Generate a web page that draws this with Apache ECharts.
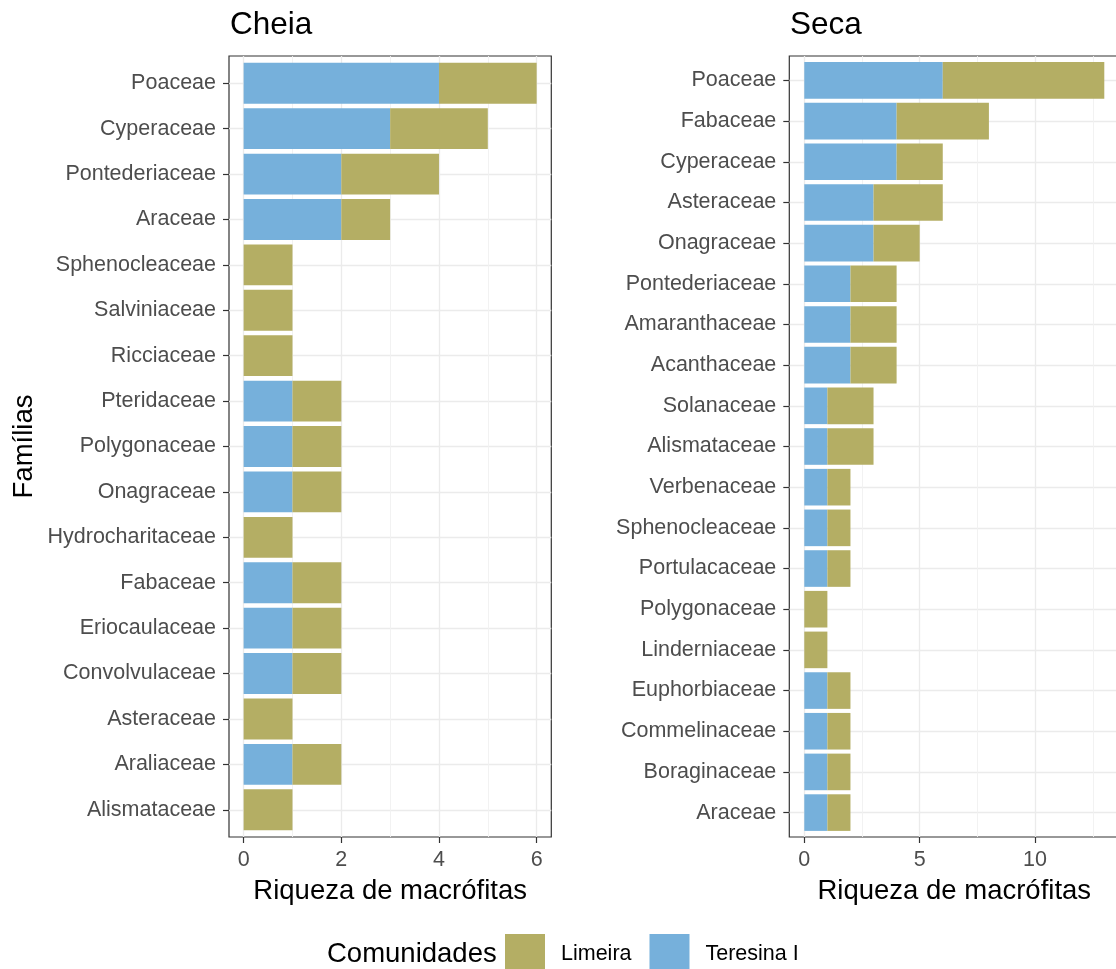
<!DOCTYPE html>
<html>
<head>
<meta charset="utf-8">
<script src="https://cdn.jsdelivr.net/npm/echarts@6/dist/echarts.min.js"></script>
<style>
  html, body { margin: 0; padding: 0; background: #fff; }
  #chart { width: 1116px; height: 969px; }
</style>
</head>
<body>
<div id="chart"></div>
<script>
// Richness of macrophyte species per family, by community and season
const cheiaFamilies = ['Poaceae', 'Cyperaceae', 'Pontederiaceae', 'Araceae', 'Sphenocleaceae',
  'Salviniaceae', 'Ricciaceae', 'Pteridaceae', 'Polygonaceae', 'Onagraceae', 'Hydrocharitaceae',
  'Fabaceae', 'Eriocaulaceae', 'Convolvulaceae', 'Asteraceae', 'Araliaceae', 'Alismataceae'];
const cheiaTeresina = [4, 3, 2, 2, 0, 0, 0, 1, 1, 1, 0, 1, 1, 1, 0, 1, 0];
const cheiaLimeira  = [2, 2, 2, 1, 1, 1, 1, 1, 1, 1, 1, 1, 1, 1, 1, 1, 1];

const secaFamilies = ['Poaceae', 'Fabaceae', 'Cyperaceae', 'Asteraceae', 'Onagraceae',
  'Pontederiaceae', 'Amaranthaceae', 'Acanthaceae', 'Solanaceae', 'Alismataceae', 'Verbenaceae',
  'Sphenocleaceae', 'Portulacaceae', 'Polygonaceae', 'Linderniaceae', 'Euphorbiaceae',
  'Commelinaceae', 'Boraginaceae', 'Araceae'];
const secaTeresina = [6, 4, 4, 3, 3, 2, 2, 2, 1, 1, 1, 1, 1, 0, 0, 1, 1, 1, 1];
const secaLimeira  = [7, 4, 2, 3, 2, 2, 2, 2, 2, 2, 1, 1, 1, 1, 1, 1, 1, 1, 1];

const cheiaTicks = [0, 2, 4, 6];
const cheiaMinor = [1, 3, 5];
const secaTicks = [0, 5, 10];
const secaMinor = [2.5, 7.5, 12.5];

const colTeresina = '#76B0DB';
const colLimeira = '#B4AE64';
const FONT = '"Liberation Sans", Arial, sans-serif';

// stacked segments: [row index, start, end]
function segments(base, top, stackOnBase) {
  return base.map((b, i) => stackOnBase ? [i, b, b + top[i]] : [i, 0, b]);
}

function renderBar(params, api) {
  const idx = api.value(0);
  const a = api.coord([api.value(1), idx]);
  const b = api.coord([api.value(2), idx]);
  const h = Math.abs(api.size([0, 0.9])[1]);
  if (b[0] - a[0] <= 0) return null;
  return {
    type: 'rect',
    shape: { x: a[0], y: a[1] - h / 2, width: b[0] - a[0], height: h },
    style: api.style()
  };
}

function rangeIdx(n) { return Array.from({ length: n }, (_, i) => i); }

function xAxes(gridIndex, min, max, ticks, minor) {
  const labelStyle = { color: '#4D4D4D', fontSize: 21.5, fontFamily: FONT, margin: 12 };
  return [
    {
      gridIndex, type: 'value', min, max, position: 'bottom',
      name: 'Riqueza de macrófitas', nameLocation: 'middle', nameGap: 40,
      nameTextStyle: { color: '#000', fontSize: 27.5, fontFamily: FONT },
      axisLine: { show: false, onZero: false },
      axisTick: { show: true, length: 6, customValues: ticks, lineStyle: { color: '#333', width: 1.2 } },
      axisLabel: Object.assign({ customValues: ticks }, labelStyle),
      splitLine: { show: true, lineStyle: { color: '#EBEBEB', width: 1.3 } }
    },
    {
      gridIndex, type: 'value', min, max, position: 'top',
      axisLine: { show: false, onZero: false },
      axisTick: { show: false, customValues: minor },
      axisLabel: { show: false },
      splitLine: { show: true, lineStyle: { color: '#F0F0F0', width: 0.9 } }
    }
  ];
}

function yAxis(gridIndex, cats, withName) {
  const ax = {
    gridIndex, type: 'value', inverse: true, position: 'left',
    min: -0.6, max: cats.length - 1 + 0.6,
    axisLine: { show: false, onZero: false },
    axisTick: { show: true, length: 6, customValues: rangeIdx(cats.length), lineStyle: { color: '#333', width: 1.2 } },
    axisLabel: {
      customValues: rangeIdx(cats.length),
      formatter: v => cats[Math.round(v)],
      color: '#4D4D4D', fontSize: 21.5, fontFamily: FONT, margin: 13
    },
    splitLine: { show: true, lineStyle: { color: '#EBEBEB', width: 1.3 } }
  };
  if (withName) {
    Object.assign(ax, {
      name: 'Famílias', nameLocation: 'middle', nameGap: 191, nameRotate: 90,
      nameTextStyle: { color: '#000', fontSize: 27.5, fontFamily: FONT }
    });
  }
  return ax;
}

const chart = echarts.init(document.getElementById('chart'), null, { renderer: 'canvas' });

chart.setOption({
  animation: false,
  backgroundColor: '#fff',
  title: [
    { text: 'Cheia', left: 230, top: 9, padding: 0,
      textStyle: { fontSize: 31.5, fontWeight: 'normal', color: '#000', fontFamily: FONT } },
    { text: 'Seca', left: 790, top: 9, padding: 0,
      textStyle: { fontSize: 31.5, fontWeight: 'normal', color: '#000', fontFamily: FONT } }
  ],
  grid: [
    { left: 229, top: 56, width: 322.3, height: 781, show: true, borderColor: '#333', borderWidth: 1.2,
      backgroundColor: 'transparent', outerBoundsMode: 'none' },
    { left: 789.3, top: 56, width: 330, height: 781, show: true, borderColor: '#333', borderWidth: 1.2,
      backgroundColor: 'transparent', outerBoundsMode: 'none' }
  ],
  xAxis: [].concat(
    xAxes(0, -0.3, 6.3, cheiaTicks, cheiaMinor),
    xAxes(1, -0.65, 13.65, secaTicks, secaMinor)
  ),
  yAxis: [yAxis(0, cheiaFamilies, true), yAxis(1, secaFamilies, false)],
  legend: {
    data: ['Limeira', 'Teresina I'],
    left: 505, top: 934, padding: 0,
    itemWidth: 40, itemHeight: 40, itemGap: 18,
    icon: 'rect',
    textStyle: { color: '#000', fontSize: 21.5, fontFamily: FONT, padding: [0, 0, 0, 11] }
  },
  graphic: [
    { type: 'text', left: 327, top: 940,
      style: { text: 'Comunidades', fontSize: 27.5, fill: '#000', fontFamily: FONT } }
  ],
  series: [
    { type: 'custom', name: 'Teresina I', xAxisIndex: 0, yAxisIndex: 0,
      itemStyle: { color: colTeresina }, renderItem: renderBar,
      encode: { x: [1, 2], y: 0 }, data: segments(cheiaTeresina, cheiaLimeira, false) },
    { type: 'custom', name: 'Limeira', xAxisIndex: 0, yAxisIndex: 0,
      itemStyle: { color: colLimeira }, renderItem: renderBar,
      encode: { x: [1, 2], y: 0 }, data: segments(cheiaTeresina, cheiaLimeira, true) },
    { type: 'custom', name: 'Teresina I', xAxisIndex: 2, yAxisIndex: 1,
      itemStyle: { color: colTeresina }, renderItem: renderBar,
      encode: { x: [1, 2], y: 0 }, data: segments(secaTeresina, secaLimeira, false) },
    { type: 'custom', name: 'Limeira', xAxisIndex: 2, yAxisIndex: 1,
      itemStyle: { color: colLimeira }, renderItem: renderBar,
      encode: { x: [1, 2], y: 0 }, data: segments(secaTeresina, secaLimeira, true) }
  ]
});
</script>
</body>
</html>
